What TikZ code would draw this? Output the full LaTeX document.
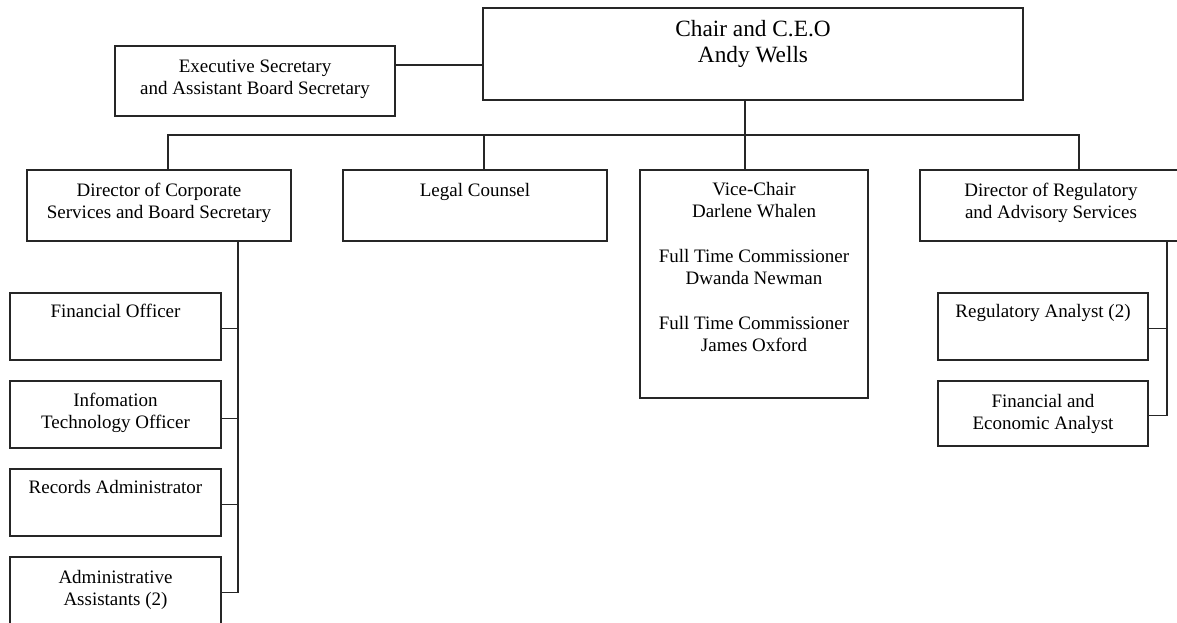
\documentclass[tikz,border=0pt]{standalone}
\usepackage{fontspec}
\setmainfont{Liberation Serif}
\tikzset{
  box/.style={draw=black!85, line width=1.4pt, rectangle, inner sep=0pt, outer sep=0pt, anchor=north west},
  lbl/.style={anchor=north, align=center, inner sep=0pt, text=black, font=\fontsize{19}{22}\selectfont},
  biglbl/.style={lbl, font=\fontsize{23.3}{26.7}\selectfont},
  conn/.style={draw=black!85, line width=1.4pt},
}
\newcommand{\fl}{\rule{0pt}{15pt}}
\newcommand{\flb}{\rule{0pt}{18pt}}
\begin{document}
\begin{tikzpicture}[x=1pt,y=-1pt]
\clip (0,0) rectangle (1177,622);
\fill[white] (0,0) rectangle (1177,622);
% boxes
\node[box, minimum width=540pt, minimum height=92pt] (chair) at (483,8) {};
\node[box, minimum width=280pt, minimum height=70pt] (exec) at (115,46) {};
\node[box, minimum width=264pt, minimum height=71pt] (dircorp) at (27,170) {};
\node[box, minimum width=264pt, minimum height=71pt] (legal) at (343,170) {};
\node[box, minimum width=228pt, minimum height=228pt] (vice) at (640,170) {};
\node[box, minimum width=262pt, minimum height=71pt] (dirreg) at (920,170) {};
\node[box, minimum width=211pt, minimum height=67pt] (fin) at (10,293) {};
\node[box, minimum width=211pt, minimum height=67pt] (info) at (10,381) {};
\node[box, minimum width=211pt, minimum height=67pt] (rec) at (10,469) {};
\node[box, minimum width=211pt, minimum height=67pt] (admin) at (10,557) {};
\node[box, minimum width=210pt, minimum height=67pt] (reg) at (938,293) {};
\node[box, minimum width=210pt, minimum height=65pt] (fecon) at (938,381) {};
% labels
\node[biglbl] (chair-t) at ([yshift=-10pt]chair.north) {\flb Chair and C.E.O\\Andy Wells};
\node[lbl] (exec-t) at ([yshift=-11pt]exec.north) {\fl Executive Secretary\\and Assistant Board Secretary};
\node[lbl] (dircorp-t) at ([yshift=-11pt]dircorp.north) {\fl Director of Corporate\\Services and Board Secretary};
\node[lbl] (legal-t) at ([yshift=-11pt]legal.north) {\fl Legal Counsel};
\node[lbl] (vice-t) at ([yshift=-10pt]vice.north) {\fl Vice-Chair\\Darlene Whalen\\[23pt]Full Time Commissioner\\Dwanda Newman\\[23pt]Full Time Commissioner\\James Oxford};
\node[lbl] (dirreg-t) at ([yshift=-11pt]dirreg.north) {\fl Director of Regulatory\\and Advisory Services};
\node[lbl] (fin-t) at ([yshift=-9pt]fin.north) {\fl Financial Officer};
\node[lbl] (info-t) at ([yshift=-10pt]info.north) {\fl Infomation\\Technology Officer};
\node[lbl] (rec-t) at ([yshift=-9pt]rec.north) {\fl Records Administrator};
\node[lbl] (admin-t) at ([yshift=-11pt]admin.north) {\fl Administrative\\Assistants (2)};
\node[lbl] (reg-t) at ([yshift=-9pt]reg.north) {\fl Regulatory Analyst (2)};
\node[lbl] (fecon-t) at ([yshift=-11pt]fecon.north) {\fl Financial and\\Economic Analyst};
% connectors
\draw[conn] ([yshift=16pt]exec.east) coordinate (e1) -- (e1 -| chair.west);
\coordinate (bus) at ([yshift=-35pt]chair.south);
\draw[conn] ([xshift=-8pt]chair.south) -- ([xshift=-9pt]vice.north);
\draw[conn] ([xshift=9pt]dircorp.north) -- ([xshift=9pt]dircorp.north |- bus) -- ([xshift=28pt]dirreg.north |- bus) -- ([xshift=28pt]dirreg.north);
\draw[conn] ([xshift=9pt]legal.north) -- ([xshift=9pt]legal.north |- bus);
% left spine
\coordinate (lsp) at ([xshift=79pt]dircorp.south);
\draw[conn] (lsp) |- ([yshift=-2pt]admin.east);
\draw[conn] ([yshift=-2pt]fin.east) -- ([yshift=-2pt]fin.east -| lsp);
\draw[conn] ([yshift=-4pt]info.east) -- ([yshift=-4pt]info.east -| lsp);
\draw[conn] ([yshift=-2pt]rec.east) -- ([yshift=-2pt]rec.east -| lsp);
% right spine
\coordinate (rsp) at ([xshift=116pt]dirreg.south);
\draw[conn] (rsp) |- ([yshift=-2pt]fecon.east);
\draw[conn] ([yshift=-2pt]reg.east) -- ([yshift=-2pt]reg.east -| rsp);
\end{tikzpicture}
\end{document}
